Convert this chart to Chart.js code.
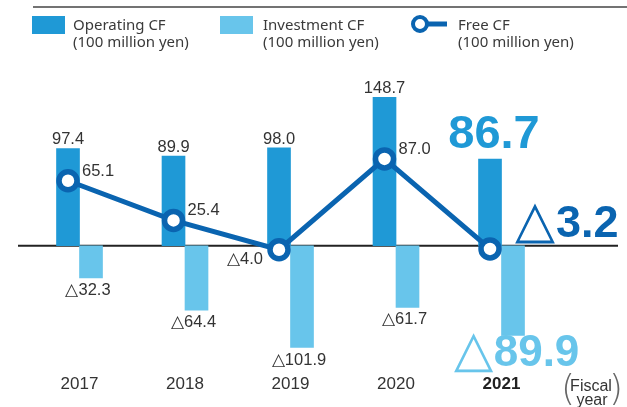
<!DOCTYPE html>
<html>
<head>
<meta charset="utf-8">
<script src="https://cdn.jsdelivr.net/npm/chart.js@4.4.0/dist/chart.umd.min.js"></script>
<style>
  html, body { margin: 0; padding: 0; background: #fff; }
</style>
</head>
<body>
<canvas id="cfChart" width="627" height="407"></canvas>
<script>
// values in 100 million yen, negative = outflow (shown with △)
const years = ['2017', '2018', '2019', '2020', '2021'];
const operatingCF = [97.4, 89.9, 98.0, 148.7, 86.7];
const investmentCF = [-32.3, -64.4, -101.9, -61.7, -89.9];
const freeCF = [65.1, 25.4, -4.0, 87.0, -3.2];
const seriesNames = ['Operating CF', 'Investment CF', 'Free CF'];
const unitText = '(100 million yen)';
const axisNote = ['Fiscal', 'year'];

const opColor = '#1f99d6';
const invColor = '#68c5eb';
const freeColor = '#0a64b0';
const textColor = '#333';
const sans = '"Liberation Sans", Arial, sans-serif';
const legendFont = '"Noto Sans", sans-serif';

const xMin = -0.583, xMax = 5.052;
const barShift = 0.109; // half a bar, so the pair sits around the year
const last = years.length - 1;

function fmt(v) {
  return (v < 0 ? '\u25B3' : '') + Math.abs(v).toFixed(1);
}

// big triangle drawn light, number drawn bold
function bigLabel(ctx, v, x, y, size, color, align) {
  const tri = v < 0 ? '\u25B3' : '';
  const num = Math.abs(v).toFixed(1);
  const triFont = 'normal ' + Math.round(size * 1.15) + 'px ' + sans;
  const numFont = 'bold ' + size + 'px ' + sans;
  ctx.font = triFont;
  const tw = tri ? ctx.measureText(tri).width : 0;
  ctx.font = numFont;
  const nw = ctx.measureText(num).width;
  let left = x;
  if (align === 'center') left = x - (tw + nw) / 2;
  ctx.fillStyle = color;
  ctx.textAlign = 'left';
  ctx.textBaseline = 'alphabetic';
  if (tri) {
    ctx.font = triFont;
    ctx.fillText(tri, left, y);
  }
  ctx.font = numFont;
  ctx.fillText(num, left + tw + 1, y);
}

const decorations = {
  id: 'decorations',
  beforeDatasetsDraw(chart) {
    const ctx = chart.ctx;
    const area = chart.chartArea;
    const y0 = chart.scales.y.getPixelForValue(0);
    ctx.save();
    ctx.strokeStyle = '#222';
    ctx.lineWidth = 2;
    ctx.beginPath();
    ctx.moveTo(area.left, y0);
    ctx.lineTo(chart.width - 9, y0);
    ctx.stroke();
    ctx.restore();
  },
  afterDatasetsDraw(chart) {
    const ctx = chart.ctx;
    const opMeta = chart.getDatasetMeta(0);
    const invMeta = chart.getDatasetMeta(1);
    const freeMeta = chart.getDatasetMeta(2);
    ctx.save();
    ctx.font = '16.5px ' + sans;
    ctx.fillStyle = textColor;
    ctx.textBaseline = 'alphabetic';

    opMeta.data.forEach((bar, i) => {
      if (i === last) return;
      ctx.textAlign = 'center';
      ctx.fillText(fmt(operatingCF[i]), bar.x, bar.y - 4);
    });
    invMeta.data.forEach((bar, i) => {
      if (i === last) return;
      ctx.textAlign = 'center';
      ctx.fillText(fmt(investmentCF[i]), bar.x - 3, bar.y + 17);
    });
    freeMeta.data.forEach((pt, i) => {
      if (i === last) return;
      if (freeCF[i] >= 0) {
        ctx.textAlign = 'left';
        ctx.fillText(fmt(freeCF[i]), pt.x + 14, pt.y - 5);
      } else {
        ctx.textAlign = 'right';
        ctx.fillText(fmt(freeCF[i]), pt.x - 16, pt.y + 14);
      }
    });

    // latest year, highlighted
    const opBar = opMeta.data[last];
    const invBar = invMeta.data[last];
    const freePt = freeMeta.data[last];
    bigLabel(ctx, operatingCF[last], opBar.x + 3, opBar.y - 11, 47, opColor, 'center');
    bigLabel(ctx, freeCF[last], freePt.x + 25, freePt.y - 12, 45, freeColor, 'left');
    bigLabel(ctx, investmentCF[last], invBar.x + 3, invBar.y + 30, 44, invColor, 'center');
    ctx.restore();
  },
  afterDraw(chart) {
    const ctx = chart.ctx;
    ctx.save();
    // rule over the legend
    ctx.strokeStyle = '#444';
    ctx.lineWidth = 1.5;
    ctx.beginPath();
    ctx.moveTo(33, 7);
    ctx.lineTo(627, 7);
    ctx.stroke();

    // legend
    ctx.fillStyle = opColor;
    ctx.fillRect(32, 16, 33, 18);
    ctx.fillStyle = invColor;
    ctx.fillRect(220, 16, 33, 18);
    ctx.strokeStyle = freeColor;
    ctx.lineWidth = 5;
    ctx.beginPath();
    ctx.moveTo(420, 24);
    ctx.lineTo(447, 24);
    ctx.stroke();
    ctx.beginPath();
    ctx.arc(420, 24, 7, 0, Math.PI * 2);
    ctx.fillStyle = '#fff';
    ctx.fill();
    ctx.lineWidth = 4;
    ctx.stroke();

    ctx.fillStyle = '#3a3a3a';
    ctx.font = '15px ' + legendFont;
    ctx.textAlign = 'left';
    ctx.textBaseline = 'alphabetic';
    [73, 263, 458].forEach((x, i) => {
      ctx.fillText(seriesNames[i], x, 30);
      ctx.fillText(unitText, x, 47);
    });

    // (Fiscal year)
    ctx.fillStyle = textColor;
    ctx.font = '16px ' + sans;
    ctx.textAlign = 'center';
    ctx.fillText(axisNote[0], 591, 391);
    ctx.fillText(axisNote[1], 592, 405);
    ctx.fillStyle = '#666';
    ctx.font = '200 36px "DejaVu Sans", sans-serif';
    ctx.textAlign = 'left';
    ctx.fillText('(', 561, 400);
    ctx.textAlign = 'right';
    ctx.fillText(')', 623, 400);
    ctx.restore();
  }
};

const ctx = document.getElementById('cfChart').getContext('2d');
const cfChart = new Chart(ctx, {
  type: 'bar',
  data: {
    datasets: [{
      label: seriesNames[0],
      data: operatingCF.map((v, i) => ({ x: i, y: v })),
      xAxisID: 'xOp',
      backgroundColor: opColor,
      barThickness: 23,
      grouped: false,
      order: 1
    }, {
      label: seriesNames[1],
      data: investmentCF.map((v, i) => ({ x: i, y: v })),
      xAxisID: 'xInv',
      backgroundColor: invColor,
      barThickness: 23,
      grouped: false,
      order: 1
    }, {
      type: 'line',
      label: seriesNames[2],
      data: freeCF.map((v, i) => ({ x: i, y: v })),
      xAxisID: 'xOp',
      borderColor: freeColor,
      borderWidth: 5,
      pointRadius: 9,
      pointBorderWidth: 5.5,
      pointBackgroundColor: '#fff',
      pointBorderColor: freeColor,
      tension: 0,
      order: 0
    }]
  },
  options: {
    responsive: false,
    animation: false,
    devicePixelRatio: 1,
    layout: { padding: { left: 18, right: 9, top: 66, bottom: 10.5 } },
    plugins: {
      legend: { display: false },
      tooltip: { enabled: false }
    },
    scales: {
      x: {
        type: 'linear',
        min: xMin,
        max: xMax,
        offset: false,
        grid: { display: false },
        border: { display: false },
        afterBuildTicks: axis => { axis.ticks = years.map((_, i) => ({ value: i })); },
        ticks: {
          padding: 2,
          autoSkip: false,
          maxRotation: 0,
          callback: v => years[v],
          color: c => c.index === last ? '#222' : textColor,
          font: c => ({ family: sans, size: 17, weight: c.index === last ? 'bold' : 'normal' })
        }
      },
      xOp: {
        type: 'linear',
        display: false,
        offset: false,
        min: xMin + barShift,
        max: xMax + barShift
      },
      xInv: {
        type: 'linear',
        display: false,
        offset: false,
        min: xMin - barShift,
        max: xMax - barShift
      },
      y: {
        display: false,
        min: -118.5,
        max: 180
      }
    }
  },
  plugins: [decorations]
});
</script>
</body>
</html>
